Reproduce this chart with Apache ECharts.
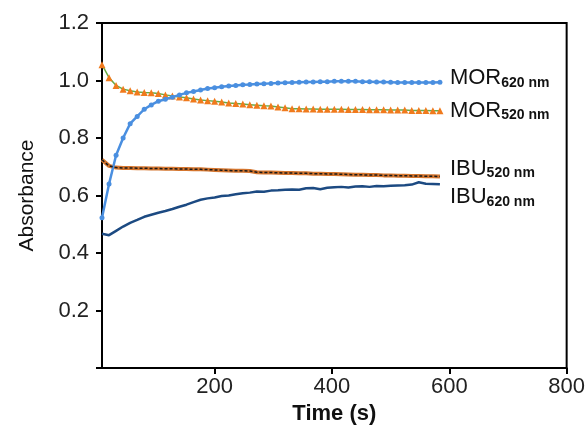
<!DOCTYPE html>
<html>
<head>
<meta charset="utf-8">
<script src="https://cdn.jsdelivr.net/npm/echarts@6/dist/echarts.min.js"></script>
<style>
  html, body { margin: 0; padding: 0; background: #fff; }
  #chart { width: 588px; height: 431px; }
</style>
</head>
<body>
<div id="chart"></div>
<script>
// time points (s)
const times = [8, 20, 32, 44, 56, 68, 80, 92, 104, 116, 128, 140, 152, 164, 176, 188, 200, 212, 224, 236,
  248, 260, 272, 284, 296, 308, 320, 332, 344, 356, 368, 380, 392, 404, 416, 428, 440, 452, 464, 476,
  488, 500, 512, 524, 536, 548, 560, 572, 584];

const mor620 = [0.523, 0.64, 0.74, 0.80, 0.85, 0.875, 0.90, 0.915, 0.928, 0.935, 0.942, 0.95, 0.957, 0.962,
  0.967, 0.972, 0.975, 0.978, 0.981, 0.983, 0.985, 0.986, 0.988, 0.989, 0.99, 0.991, 0.992, 0.993, 0.994,
  0.995, 0.995, 0.996, 0.996, 0.997, 0.997, 0.997, 0.997, 0.996, 0.996, 0.995, 0.995, 0.994, 0.993, 0.993,
  0.993, 0.993, 0.993, 0.993, 0.994];

const mor520 = [1.055, 1.01, 0.983, 0.97, 0.964, 0.96, 0.958, 0.957, 0.955, 0.95, 0.946, 0.943, 0.94, 0.936,
  0.932, 0.93, 0.928, 0.925, 0.922, 0.92, 0.918, 0.916, 0.914, 0.912, 0.911, 0.908, 0.905, 0.902, 0.902,
  0.901, 0.901, 0.9, 0.9, 0.9, 0.9, 0.899, 0.899, 0.899, 0.898, 0.898, 0.898, 0.897, 0.897, 0.897, 0.896,
  0.896, 0.896, 0.895, 0.895];

const ibu520 = [0.724, 0.703, 0.697, 0.696, 0.696, 0.695, 0.695, 0.694, 0.694, 0.693, 0.693, 0.692, 0.692,
  0.691, 0.691, 0.69, 0.689, 0.688, 0.687, 0.686, 0.686, 0.685, 0.681, 0.68, 0.68, 0.679, 0.678, 0.678,
  0.677, 0.677, 0.676, 0.676, 0.675, 0.675, 0.674, 0.673, 0.672, 0.672, 0.671, 0.671, 0.67, 0.67, 0.669,
  0.669, 0.668, 0.668, 0.667, 0.667, 0.666];

const ibu620 = [0.467, 0.462, 0.477, 0.492, 0.505, 0.515, 0.526, 0.533, 0.54, 0.546, 0.553, 0.561, 0.568,
  0.577, 0.585, 0.59, 0.593, 0.598, 0.6, 0.604, 0.608, 0.61, 0.614, 0.613, 0.617, 0.618, 0.62, 0.621, 0.62,
  0.625, 0.626, 0.622, 0.627, 0.629, 0.63, 0.628, 0.631, 0.632, 0.63, 0.633, 0.632, 0.634, 0.635, 0.636,
  0.638, 0.646, 0.641, 0.64, 0.639];

const xTicks = [200, 400, 600, 800];

const font = "'Liberation Sans', Arial, sans-serif";

function pairs(ys) {
  return times.map((t, i) => [t, ys[i]]);
}

// label at end of line: big name + subscript wavelength
function endLabel(name, sub, dy) {
  return {
    show: true,
    distance: 10,
    offset: [0, dy],
    formatter: `{a|${name}}{b|${sub}}`,
    rich: {
      a: { fontFamily: font, fontSize: 22, color: '#111' },
      b: { fontFamily: font, fontSize: 14, fontWeight: 'bold', color: '#111', verticalAlign: 'bottom', padding: [9, 0, 0, 0] },
    },
  };
}

const chart = echarts.init(document.getElementById('chart'));

const option = {
  animation: false,
  grid: {
    left: 102,
    right: 20,
    top: 23,
    bottom: 63,
    show: true,
    borderColor: '#000',
    borderWidth: 2,
  },
  xAxis: {
    type: 'value',
    min: 8,
    max: 800,
    name: 'Time (s)',
    nameLocation: 'middle',
    nameGap: 33,
    nameTextStyle: { fontFamily: font, fontSize: 22, fontWeight: 'bold', color: '#111' },
    axisLine: { show: true, lineStyle: { color: '#000', width: 2 } },
    axisTick: { show: true, length: 6, lineStyle: { color: '#000', width: 2 }, customValues: xTicks },
    axisLabel: { fontFamily: font, fontSize: 22, color: '#222', margin: 8, customValues: xTicks },
    splitLine: { show: false },
  },
  yAxis: {
    type: 'value',
    min: 0,
    max: 1.2,
    interval: 0.2,
    name: 'Absorbance',
    nameLocation: 'middle',
    nameGap: 64,
    nameTextStyle: { fontFamily: font, fontSize: 21, color: '#111' },
    axisLine: { show: true, lineStyle: { color: '#000', width: 2 } },
    axisTick: { show: true, length: 6, lineStyle: { color: '#000', width: 2 } },
    axisLabel: {
      fontFamily: font,
      fontSize: 22,
      color: '#222',
      margin: 13,
      formatter: (v) => (v === 0 ? '' : v.toFixed(1)),
    },
    splitLine: { show: false },
  },
  series: [
    {
      name: 'MOR620',
      type: 'line',
      data: pairs(mor620),
      symbol: 'circle',
      symbolSize: 5,
      showAllSymbol: true,
      lineStyle: { color: '#4a8fe0', width: 2.5 },
      itemStyle: { color: '#4a8fe0' },
      endLabel: endLabel('MOR', '620 nm', -4),
      z: 3,
    },
    {
      name: 'MOR520',
      type: 'line',
      data: pairs(mor520),
      symbol: 'triangle',
      symbolSize: 7,
      showAllSymbol: true,
      lineStyle: { color: '#6aaa45', width: 1.5 },
      itemStyle: { color: '#f07a1c' },
      endLabel: endLabel('MOR', '520 nm', 0),
      z: 2,
    },
    {
      name: 'IBU520',
      type: 'line',
      data: pairs(ibu520),
      symbol: 'none',
      lineStyle: { color: '#d4752e', width: 4 },
      endLabel: endLabel('IBU', '520 nm', -8),
      z: 2,
    },
    {
      name: 'IBU520 dash',
      type: 'line',
      data: pairs(ibu520),
      symbol: 'none',
      lineStyle: { color: '#1a1a1a', width: 1.5, type: [3, 2] },
      z: 3,
    },
    {
      name: 'IBU620',
      type: 'line',
      data: pairs(ibu620),
      symbol: 'none',
      lineStyle: { color: '#1c4a82', width: 2.5 },
      endLabel: endLabel('IBU', '620 nm', 13),
      z: 2,
    },
  ],
};

chart.setOption(option);
</script>
</body>
</html>
